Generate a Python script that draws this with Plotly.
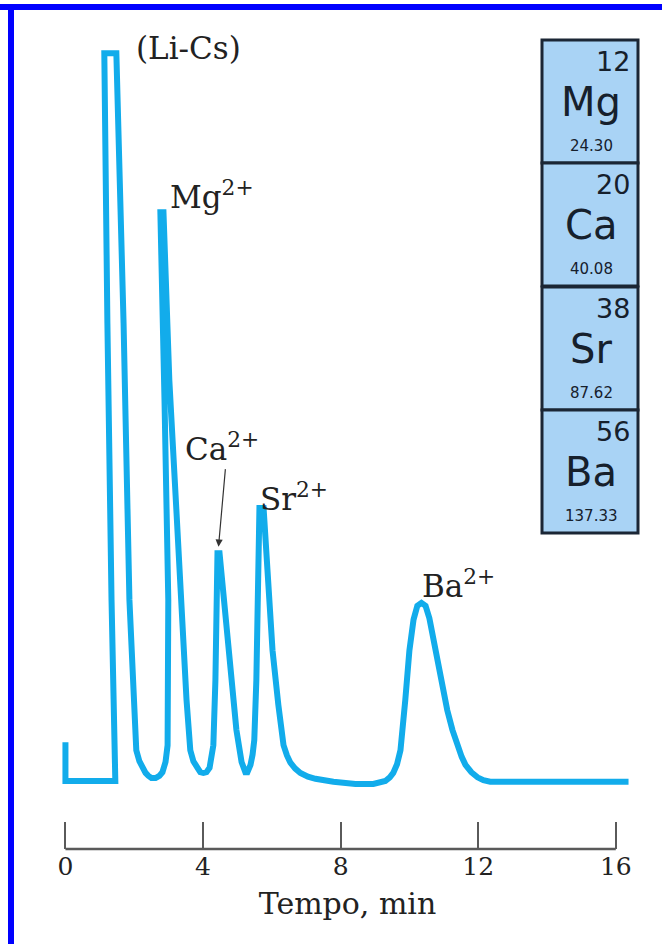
import plotly.graph_objects as go

# ---- Data ----
tempo_min = [0.00, 0.00, 1.45, 1.34, 1.22, 1.13, 1.48, 1.69, 1.86, 2.06, 2.15, 2.24, 2.33,
             2.41, 2.50, 2.62, 2.73, 2.82, 2.91, 2.97, 2.99, 2.88, 2.76, 2.85, 3.02, 3.23,
             3.37, 3.52, 3.63, 3.72, 3.84, 3.92, 4.01, 4.10, 4.19, 4.24, 4.30, 4.36, 4.42,
             4.48, 4.74, 4.97, 5.12, 5.17, 5.23, 5.29, 5.38, 5.44, 5.49, 5.55, 5.61,
             5.64, 5.76, 5.87, 6.02, 6.19, 6.34, 6.44, 6.54, 6.68, 6.83, 7.05, 7.27, 7.79,
             8.43, 8.95, 9.30, 9.43, 9.53, 9.64, 9.74, 9.88, 10.00, 10.12, 10.23, 10.35,
             10.47, 10.58, 10.70, 10.81, 10.96, 11.10, 11.25, 11.40, 11.52, 11.63, 11.80,
             11.98, 12.15, 12.35, 16.37]
segnale = [5.3, 0.0, 0.0, 24.8, 62.7, 99.7, 99.7, 62.7, 24.8, 4.2, 2.7, 1.8, 1.1,
           0.7, 0.4, 0.4, 0.7, 1.2, 2.6, 4.9, 24.8, 52.2, 77.9, 77.9, 54.9, 36.7,
           23.4, 11.1, 4.2, 2.7, 1.8, 1.2, 1.1, 1.2, 1.8, 3.0, 4.9, 13.8, 31.2,
           31.2, 17.9, 7.0, 2.6, 1.8, 1.2, 1.2, 2.2, 3.6, 5.6, 13.8, 24.8,
           37.4, 37.4, 27.9, 17.9, 10.4, 4.9, 3.5, 2.5, 1.7, 1.1, 0.6, 0.3, -0.1,
           -0.4, -0.4, 0.0, 0.5, 1.1, 2.3, 4.2, 11.1, 17.9, 22.1, 24.0, 24.4,
           24.0, 22.3, 19.3, 16.3, 13.2, 9.7, 7.0, 4.7, 3.3, 2.2, 1.2,
           0.5, 0.1, -0.1, -0.1]

x_ticks = [0, 4, 8, 12, 16]
x_tick_labels = ["0", "4", "8", "12", "16"]

peak_labels = ["(Li-Cs)", "Mg<sup>2+</sup>", "Ca<sup>2+</sup>", "Sr<sup>2+</sup>", "Ba<sup>2+</sup>"]
peak_label_t = [1.98, 2.97, 3.43, 5.61, 10.3]
peak_label_s = [100.4, 80.3, 45.7, 38.9, 27.0]

elem_numbers = ["12", "20", "38", "56"]
elem_symbols = ["Mg", "Ca", "Sr", "Ba"]
elem_masses = ["24.30", "40.08", "87.62", "137.33"]

# ---- Layout geometry (pixels) ----
W, H = 662, 944
L, R, T, B = 62, 29, 40, 95
PW, PH = W - L - R, H - T - B


def px(x):
    return (x - L) / PW


def py(y):
    return (H - B - y) / PH


LINE = "#12ACEB"
SERIF = "DejaVu Serif"
SANS = "DejaVu Sans"

fig = go.Figure()
fig.add_trace(go.Scatter(x=tempo_min, y=segnale, mode="lines",
                         line=dict(color=LINE, width=6),
                         hoverinfo="skip", showlegend=False))

shapes = []
annotations = []

# x axis baseline from 0 to 16
shapes.append(dict(type="line", xref="x", yref="paper", x0=x_ticks[0], x1=x_ticks[-1],
                   y0=0, y1=0, line=dict(color="#5a5a5a", width=2.5)))

# page border (top and left blue bars)
shapes.append(dict(type="rect", xref="paper", yref="paper", x0=px(0), x1=px(W + 5),
                   y0=py(10), y1=py(4), fillcolor="#0000FF", line=dict(width=0)))
shapes.append(dict(type="rect", xref="paper", yref="paper", x0=px(8), x1=px(14),
                   y0=py(H + 5), y1=py(4), fillcolor="#0000FF", line=dict(width=0)))

# element boxes
box_x0, box_x1 = 542, 638
box_tops = [40, 163, 287, 410]
box_h = 123
for i in range(len(elem_symbols)):
    top = box_tops[i]
    shapes.append(dict(type="rect", xref="paper", yref="paper", x0=px(box_x0), x1=px(box_x1),
                       y0=py(top + box_h), y1=py(top), fillcolor="#A9D3F5",
                       line=dict(color="#1B2635", width=3)))
    annotations.append(dict(xref="paper", yref="paper", x=px(632), y=py(top + 21),
                            text=elem_numbers[i], showarrow=False, xanchor="right",
                            yanchor="middle", font=dict(family=SANS, size=27, color="#16202c")))
    annotations.append(dict(xref="paper", yref="paper", x=px(591), y=py(top + 62),
                            text=elem_symbols[i], showarrow=False, xanchor="center",
                            yanchor="middle", font=dict(family=SANS, size=40, color="#16202c")))
    annotations.append(dict(xref="paper", yref="paper", x=px(591), y=py(top + 106),
                            text=elem_masses[i], showarrow=False, xanchor="center",
                            yanchor="middle", font=dict(family=SANS, size=15, color="#16202c")))

# peak labels
for lab, t, s in zip(peak_labels, peak_label_t, peak_label_s):
    annotations.append(dict(x=t, y=s, xref="x", yref="y", text=lab, showarrow=False,
                            xanchor="left", yanchor="middle",
                            font=dict(family=SERIF, size=31, color="#222222")))

# Ca arrow
annotations.append(dict(x=4.45, y=32.1, xref="x", yref="y", text="", showarrow=True,
                        ax=7, ay=-79, arrowhead=2, arrowsize=1.2, arrowwidth=1.2,
                        arrowcolor="#333333"))

fig.update_layout(
    width=W, height=H,
    margin=dict(l=L, r=R, t=T, b=B, pad=0),
    paper_bgcolor="white", plot_bgcolor="white",
    shapes=shapes, annotations=annotations,
    xaxis=dict(range=[-0.1, 16.5], tickvals=x_ticks, ticktext=x_tick_labels,
               ticks="inside", ticklen=27, tickwidth=2, tickcolor="#5a5a5a",
               showgrid=False, zeroline=False, showline=False,
               tickfont=dict(family=SERIF, size=25, color="#222222"),
               title=dict(text="Tempo, min", standoff=12,
                          font=dict(family=SERIF, size=30, color="#222222"))),
    yaxis=dict(range=[-9.32, 101.5], visible=False, showgrid=False, zeroline=False),
)

fig.write_html("out.html", config={"displayModeBar": False},
               post_script="document.body.style.margin='0px';")
